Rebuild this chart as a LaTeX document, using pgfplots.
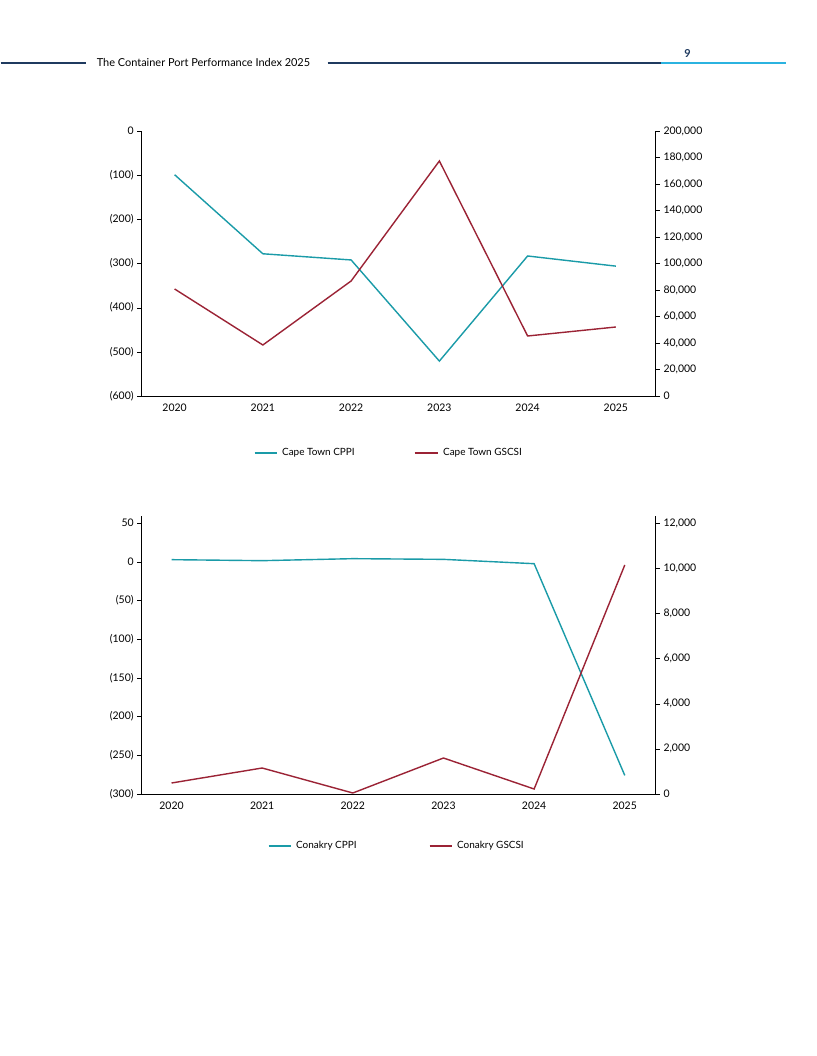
\documentclass[border=0pt]{standalone}
\usepackage{pgfplots}
\pgfplotsset{compat=1.18}
\usepackage{fontspec}
\setmainfont{Lato}
\definecolor{teal}{HTML}{1A9BA8}
\definecolor{dred}{HTML}{9B2335}
\definecolor{navy}{HTML}{1F3A5F}
\definecolor{lblue}{HTML}{2BB3E0}
\begin{document}
\begin{tikzpicture}
\fill[white] (0bp,0bp) rectangle (816bp,1056bp);
% header
\draw[navy,line width=1.2bp] (0bp,993bp) -- (85bp,993bp);
\node[anchor=west,font=\fontsize{11}{12}\selectfont,inner sep=0] at (96bp,993bp) {The Container Port Performance Index 2025};
\draw[navy,line width=1.2bp] (327bp,993bp) -- (660bp,993bp);
\draw[lblue,line width=1.2bp] (660bp,993bp) -- (785bp,993bp);
\node[font=\bfseries\fontsize{11}{12}\selectfont,navy] at (687bp,1002bp) {9};
\pgfplotsset{every axis/.style={scale only axis,width=514bp,height=265bp,
  tick label style={font=\fontsize{10.5}{12}\selectfont},
  /pgf/number format/assume math mode=true,
  tick align=outside, axis line style={black}, tick style={black},
  line width=0.8bp}}
% chart 1
\begin{axis}[at={(141bp,660bp)},anchor=south west,xmin=2019.626,xmax=2025.45,
  ymin=-600,ymax=0,ytick={-600,-500,...,0},
  yticklabels={(600),(500),(400),(300),(200),(100),0},
  axis y line*=left, axis x line*=bottom, xtick={2020,...,2025},
  xticklabel style={/pgf/number format/1000 sep={}}, major x tick style={draw=none}]
\addplot[teal,line width=1.4bp] coordinates {(2020,-99)(2021,-278)(2022,-292)(2023,-521)(2024,-283)(2025,-306)};
\end{axis}
\begin{axis}[at={(141bp,660bp)},anchor=south west,xmin=2019.626,xmax=2025.45,
  ymin=0,ymax=200000,ytick={0,20000,...,200000},axis y line*=right,axis x line=none,
  scaled y ticks=false,yticklabel style={/pgf/number format/.cd,fixed,1000 sep={,}}]
\addplot[dred,line width=1.4bp] coordinates {(2020,80755)(2021,38490)(2022,86800)(2023,177360)(2024,45280)(2025,52075)};
\end{axis}
\draw[teal,line width=1.4bp] (254bp,603bp) -- (276bp,603bp);
\node[anchor=west,font=\fontsize{10}{12}\selectfont] at (278bp,603bp) {Cape Town CPPI};
\draw[dred,line width=1.4bp] (414bp,603bp) -- (437bp,603bp);
\node[anchor=west,font=\fontsize{10}{12}\selectfont] at (439bp,603bp) {Cape Town GSCSI};
% chart 2
\pgfplotsset{every axis/.append style={height=278bp}}
\begin{axis}[at={(141bp,262bp)},anchor=south west,xmin=2019.67,xmax=2025.34,
  ymin=-300,ymax=59,ytick={-300,-250,...,50},
  yticklabels={(300),(250),(200),(150),(100),(50),0,50},
  axis y line*=left, axis x line*=bottom, xtick={2020,...,2025},
  xticklabel style={/pgf/number format/1000 sep={}}, major x tick style={draw=none}]
\addplot[teal,line width=1.4bp] coordinates {(2020,2.6)(2021,1.3)(2022,3.9)(2023,3)(2024,-2.6)(2025,-276)};
\end{axis}
\begin{axis}[at={(141bp,262bp)},anchor=south west,xmin=2019.67,xmax=2025.34,
  ymin=0,ymax=12310,ytick={0,2000,...,12000},axis y line*=right,axis x line=none,
  scaled y ticks=false,yticklabel style={/pgf/number format/.cd,fixed,1000 sep={,}}]
\addplot[dred,line width=1.4bp] coordinates {(2020,487)(2021,1151)(2022,44)(2023,1594)(2024,221)(2025,10140)};
\end{axis}
\draw[teal,line width=1.4bp] (268bp,210bp) -- (290bp,210bp);
\node[anchor=west,font=\fontsize{10}{12}\selectfont] at (292bp,210bp) {Conakry CPPI};
\draw[dred,line width=1.4bp] (429bp,210bp) -- (451bp,210bp);
\node[anchor=west,font=\fontsize{10}{12}\selectfont] at (453bp,210bp) {Conakry GSCSI};
\end{tikzpicture}
\end{document}
